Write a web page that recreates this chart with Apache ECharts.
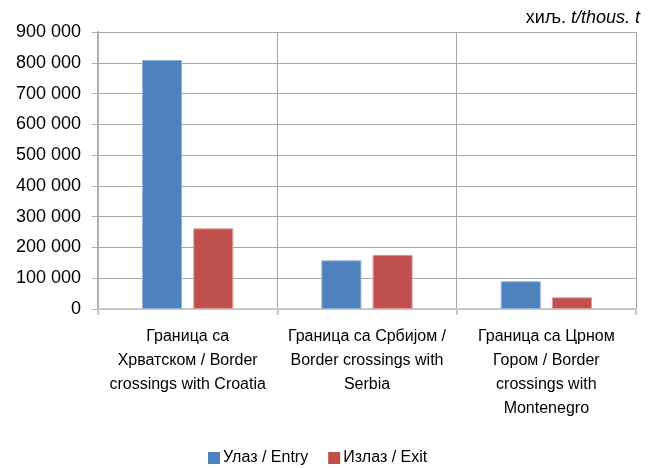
<!DOCTYPE html>
<html>
<head>
<meta charset="utf-8">
<script src="https://cdn.jsdelivr.net/npm/echarts@6/dist/echarts.min.js"></script>
<style>html,body{margin:0;padding:0;background:#fff}#c{width:653px;height:468px}</style>
</head>
<body>
<div id="c"></div>
<script>
var categories = [
  "Граница са\nХрватском / Border\ncrossings with Croatia",
  "Граница са Србијом /\nBorder crossings with\nSerbia",
  "Граница са Црном\nГором / Border\ncrossings with\nMontenegro"
];
var seriesNames = ["Улаз / Entry", "Излаз / Exit"];
var entryValues = [809000, 158000, 90000];
var exitValues = [262000, 176000, 38000];
var yTicks = { min: 0, max: 900000, interval: 100000 };
var unitNormal = "хиљ. ";
var unitItalic = "t/thous. t";

var font = "'Liberation Sans', Arial, sans-serif";
var chart = echarts.init(document.getElementById('c'), null, {renderer: 'canvas'});
chart.setOption({
  animation: false,
  textStyle: { fontFamily: font },
  grid: { left: 98, right: 17, top: 32, bottom: 159, containLabel: false },
  graphic: [
    { type: 'text', right: 13, top: 9,
      style: { text: unitItalic, font: 'italic 18px ' + font, fill: '#000' } },
    { type: 'text', right: 82, top: 9,
      style: { text: unitNormal, font: 'normal 18px ' + font, fill: '#000' } }
  ],
  legend: {
    top: 445, left: 203,
    itemWidth: 12, itemHeight: 12, itemGap: 20,
    icon: 'rect',
    itemStyle: { borderWidth: 0 },
    textStyle: { fontFamily: font, fontSize: 16, color: '#000', padding: [0,0,0,-2] },
    data: seriesNames
  },
  xAxis: {
    type: 'category',
    data: categories,
    axisLine: { show: true, lineStyle: { color: '#c8c8c8', width: 2 } },
    axisTick: { show: true, length: 6, lineStyle: { color: '#c8c8c8', width: 2 } },
    splitLine: { show: true, lineStyle: { color: '#a6a6a6', width: 1 } },
    axisLabel: { color: '#000', fontFamily: font, fontSize: 16, lineHeight: 24, margin: 16, interval: 0 }
  },
  yAxis: {
    type: 'value',
    min: yTicks.min, max: yTicks.max, interval: yTicks.interval,
    axisLine: { show: true, lineStyle: { color: '#b0b0b0', width: 2 } },
    axisTick: { show: true, length: 6, lineStyle: { color: '#b0b0b0', width: 1 } },
    splitLine: { show: true, lineStyle: { color: '#a6a6a6', width: 1 } },
    axisLabel: {
      color: '#000', fontFamily: font, fontSize: 18, margin: 17,
      formatter: function (v) { return String(v).replace(/\B(?=(\d{3})+(?!\d))/g, ' '); }
    }
  },
  series: [
    { name: seriesNames[0], type: 'bar', data: entryValues, barWidth: 40, barGap: '28%',
      itemStyle: { color: '#4F81BD', borderColor: '#8fb0d8', borderWidth: 1 } },
    { name: seriesNames[1], type: 'bar', data: exitValues, barWidth: 40,
      itemStyle: { color: '#C0504D', borderColor: '#e09a98', borderWidth: 1 } }
  ]
});
</script>
</body>
</html>
